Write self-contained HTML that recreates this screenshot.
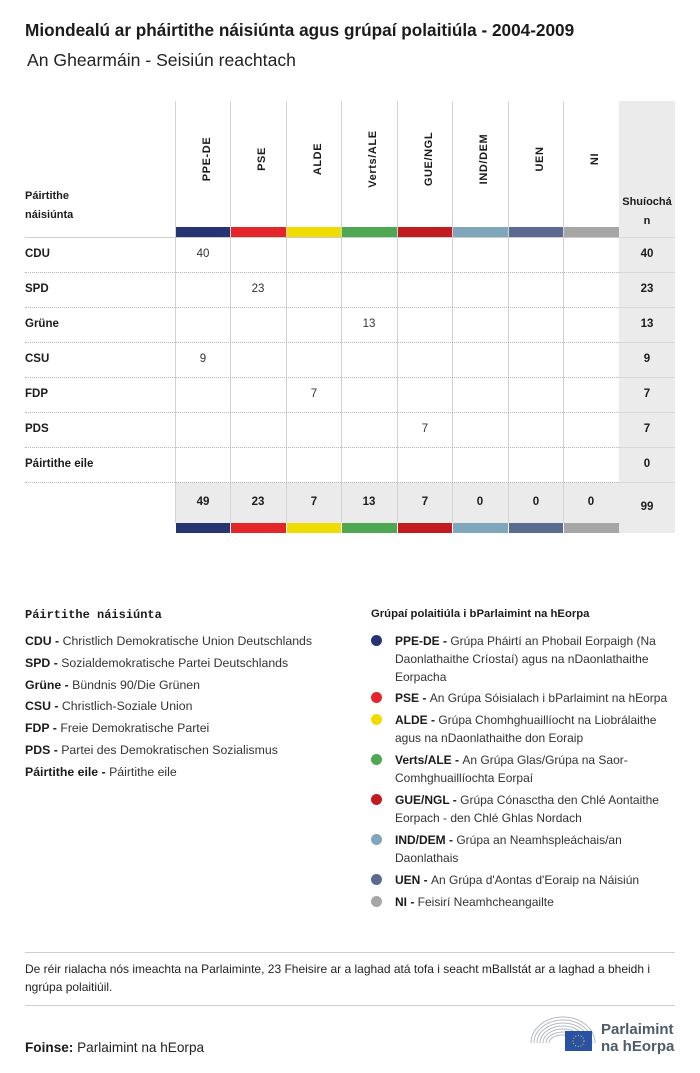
<!DOCTYPE html>
<html>
<head>
<meta charset="utf-8">
<style>
  html,body{margin:0;padding:0;}
  body{width:700px;height:1073px;position:relative;background:#fff;overflow:hidden;
       font-family:"Liberation Sans",Arial,sans-serif;color:#222;}
  .a{position:absolute;}
  .t{position:absolute;white-space:nowrap;line-height:20px;height:20px;}
  .b{font-weight:bold;color:#1b1b1b;}
  .vl{position:absolute;width:1px;background:#d2d2d2;top:101px;height:422px;}
  .bar{position:absolute;height:10px;}
  .dot{position:absolute;border-top:1px dotted #b8b8b8;left:25px;width:594px;height:0;}
  .gl{position:absolute;left:619px;width:56px;height:1px;background:#d8d8d8;}
  .rl{position:absolute;font-weight:bold;font-size:11.5px;color:#1b1b1b;}
  .val{position:absolute;width:56px;text-align:center;font-size:11.5px;color:#333;line-height:20px;height:20px;}
  .tot{position:absolute;width:56px;text-align:center;font-size:11.5px;font-weight:bold;color:#1b1b1b;line-height:20px;height:20px;}
  .rot{position:absolute;white-space:nowrap;font-weight:bold;font-size:11px;letter-spacing:0.6px;color:#1b1b1b;
       line-height:12px;transform:translate(-50%,-50%) rotate(-90deg);}
  .lg{position:absolute;white-space:nowrap;font-size:12px;line-height:18px;height:18px;color:#333;}
  .lg b{color:#1b1b1b;}
  .ll{font-size:12.3px;}
  .dt{position:absolute;width:11px;height:11px;border-radius:50%;}
</style>
</head>
<body>

<!-- Titles -->
<div class="t b" style="left:25px;top:20px;font-size:17.2px;">Miondealú ar pháirtithe náisiúnta agus grúpaí polaitiúla - 2004-2009</div>
<div class="t" style="left:27px;top:50px;font-size:17.6px;color:#222;">An Ghearmáin - Seisiún reachtach</div>

<!-- grey total column -->
<div class="a" style="left:619px;top:101px;width:56px;height:432px;background:#ebebeb;"></div>
<!-- grey footer row -->
<div class="a" style="left:175px;top:482px;width:444px;height:41px;background:#ebebeb;"></div>

<!-- vertical lines -->
<div class="vl" style="left:175px;"></div>
<div class="vl" style="left:230px;"></div>
<div class="vl" style="left:286px;"></div>
<div class="vl" style="left:341px;"></div>
<div class="vl" style="left:397px;"></div>
<div class="vl" style="left:452px;"></div>
<div class="vl" style="left:508px;"></div>
<div class="vl" style="left:563px;"></div>

<!-- header bars -->
<div class="bar" style="top:227px;left:176px;width:54px;background:#263474;"></div>
<div class="bar" style="top:227px;left:231px;width:55px;background:#e3262a;"></div>
<div class="bar" style="top:227px;left:287px;width:54px;background:#efdc00;"></div>
<div class="bar" style="top:227px;left:342px;width:55px;background:#4ea853;"></div>
<div class="bar" style="top:227px;left:398px;width:54px;background:#c21b1f;"></div>
<div class="bar" style="top:227px;left:453px;width:55px;background:#80a6bb;"></div>
<div class="bar" style="top:227px;left:509px;width:54px;background:#5a6b8f;"></div>
<div class="bar" style="top:227px;left:564px;width:55px;background:#a6a6a6;"></div>

<!-- footer bars -->
<div class="bar" style="top:523px;left:176px;width:54px;background:#263474;"></div>
<div class="bar" style="top:523px;left:231px;width:55px;background:#e3262a;"></div>
<div class="bar" style="top:523px;left:287px;width:54px;background:#efdc00;"></div>
<div class="bar" style="top:523px;left:342px;width:55px;background:#4ea853;"></div>
<div class="bar" style="top:523px;left:398px;width:54px;background:#c21b1f;"></div>
<div class="bar" style="top:523px;left:453px;width:55px;background:#80a6bb;"></div>
<div class="bar" style="top:523px;left:509px;width:54px;background:#5a6b8f;"></div>
<div class="bar" style="top:523px;left:564px;width:55px;background:#a6a6a6;"></div>

<!-- header bottom line -->
<div class="a" style="left:25px;top:237px;width:594px;height:1px;background:#cccccc;"></div>
<div class="gl" style="top:237px;"></div>

<!-- row separators -->
<div class="dot" style="top:272px;"></div><div class="gl" style="top:272px;"></div>
<div class="dot" style="top:307px;"></div><div class="gl" style="top:307px;"></div>
<div class="dot" style="top:342px;"></div><div class="gl" style="top:342px;"></div>
<div class="dot" style="top:377px;"></div><div class="gl" style="top:377px;"></div>
<div class="dot" style="top:412px;"></div><div class="gl" style="top:412px;"></div>
<div class="dot" style="top:447px;"></div><div class="gl" style="top:447px;"></div>
<div class="dot" style="top:482px;"></div><div class="gl" style="top:482px;"></div>

<!-- header labels -->
<div class="t b" style="left:25px;top:186px;font-size:11px;">Páirtithe</div>
<div class="t b" style="left:25px;top:205px;font-size:11px;">náisiúnta</div>
<div class="t b" style="left:619px;top:192px;width:56px;text-align:center;font-size:11px;">Shuíochá</div>
<div class="t b" style="left:619px;top:211px;width:56px;text-align:center;font-size:11px;">n</div>

<div class="rot" style="left:207px;top:159px;">PPE-DE</div>
<div class="rot" style="left:262px;top:159px;">PSE</div>
<div class="rot" style="left:318px;top:159px;">ALDE</div>
<div class="rot" style="left:373px;top:159px;">Verts/ALE</div>
<div class="rot" style="left:429px;top:159px;">GUE/NGL</div>
<div class="rot" style="left:484px;top:159px;">IND/DEM</div>
<div class="rot" style="left:540px;top:159px;">UEN</div>
<div class="rot" style="left:595px;top:159px;">NI</div>

<!-- row labels -->
<div class="t rl" style="left:25px;top:244px;">CDU</div>
<div class="t rl" style="left:25px;top:279px;">SPD</div>
<div class="t rl" style="left:25px;top:314px;">Grüne</div>
<div class="t rl" style="left:25px;top:349px;">CSU</div>
<div class="t rl" style="left:25px;top:384px;">FDP</div>
<div class="t rl" style="left:25px;top:419px;">PDS</div>
<div class="t rl" style="left:25px;top:454px;">Páirtithe eile</div>

<!-- values -->
<div class="val" style="left:175px;top:244px;">40</div>
<div class="val" style="left:230px;top:279px;">23</div>
<div class="val" style="left:341px;top:314px;">13</div>
<div class="val" style="left:175px;top:349px;">9</div>
<div class="val" style="left:286px;top:384px;">7</div>
<div class="val" style="left:397px;top:419px;">7</div>

<!-- totals column -->
<div class="tot" style="left:619px;top:244px;">40</div>
<div class="tot" style="left:619px;top:279px;">23</div>
<div class="tot" style="left:619px;top:314px;">13</div>
<div class="tot" style="left:619px;top:349px;">9</div>
<div class="tot" style="left:619px;top:384px;">7</div>
<div class="tot" style="left:619px;top:419px;">7</div>
<div class="tot" style="left:619px;top:454px;">0</div>

<!-- footer totals -->
<div class="tot" style="left:175px;top:492px;">49</div>
<div class="tot" style="left:230px;top:492px;">23</div>
<div class="tot" style="left:286px;top:492px;">7</div>
<div class="tot" style="left:341px;top:492px;">13</div>
<div class="tot" style="left:397px;top:492px;">7</div>
<div class="tot" style="left:452px;top:492px;">0</div>
<div class="tot" style="left:508px;top:492px;">0</div>
<div class="tot" style="left:563px;top:492px;">0</div>
<div class="tot" style="left:619px;top:497px;">99</div>

<!-- Left legend -->
<div class="t" style="left:25px;top:605px;font-family:'Liberation Mono',monospace;font-weight:bold;font-size:12px;color:#1b1b1b;">Páirtithe náisiúnta</div>
<div class="lg ll" style="left:25px;top:632px;"><b>CDU - </b>Christlich Demokratische Union Deutschlands</div>
<div class="lg ll" style="left:25px;top:654px;"><b>SPD - </b>Sozialdemokratische Partei Deutschlands</div>
<div class="lg ll" style="left:25px;top:676px;"><b>Grüne - </b>Bündnis 90/Die Grünen</div>
<div class="lg ll" style="left:25px;top:697px;"><b>CSU - </b>Christlich-Soziale Union</div>
<div class="lg ll" style="left:25px;top:719px;"><b>FDP - </b>Freie Demokratische Partei</div>
<div class="lg ll" style="left:25px;top:741px;"><b>PDS - </b>Partei des Demokratischen Sozialismus</div>
<div class="lg ll" style="left:25px;top:763px;"><b>Páirtithe eile - </b>Páirtithe eile</div>

<!-- Right legend -->
<div class="t b" style="left:371px;top:604px;font-size:11.3px;">Grúpaí polaitiúla i bParlaimint na hEorpa</div>

<div class="dt" style="left:371px;top:635px;background:#263474;"></div>
<div class="lg" style="left:395px;top:632px;"><b>PPE-DE - </b>Grúpa Pháirtí an Phobail Eorpaigh (Na</div>
<div class="lg" style="left:395px;top:650px;">Daonlathaithe Críostaí) agus na nDaonlathaithe</div>
<div class="lg" style="left:395px;top:668px;">Eorpacha</div>

<div class="dt" style="left:371px;top:692px;background:#e3262a;"></div>
<div class="lg" style="left:395px;top:689px;"><b>PSE - </b>An Grúpa Sóisialach i bParlaimint na hEorpa</div>

<div class="dt" style="left:371px;top:714px;background:#efdc00;"></div>
<div class="lg" style="left:395px;top:711px;"><b>ALDE - </b>Grúpa Chomhghuaillíocht na Liobrálaithe</div>
<div class="lg" style="left:395px;top:729px;">agus na nDaonlathaithe don Eoraip</div>

<div class="dt" style="left:371px;top:754px;background:#4ea853;"></div>
<div class="lg" style="left:395px;top:751px;"><b>Verts/ALE - </b>An Grúpa Glas/Grúpa na Saor-</div>
<div class="lg" style="left:395px;top:769px;">Comhghuaillíochta Eorpaí</div>

<div class="dt" style="left:371px;top:794px;background:#c21b1f;"></div>
<div class="lg" style="left:395px;top:791px;"><b>GUE/NGL - </b>Grúpa Cónasctha den Chlé Aontaithe</div>
<div class="lg" style="left:395px;top:809px;">Eorpach - den Chlé Ghlas Nordach</div>

<div class="dt" style="left:371px;top:834px;background:#80a6bb;"></div>
<div class="lg" style="left:395px;top:831px;"><b>IND/DEM - </b>Grúpa an Neamhspleáchais/an</div>
<div class="lg" style="left:395px;top:849px;">Daonlathais</div>

<div class="dt" style="left:371px;top:874px;background:#5a6b8f;"></div>
<div class="lg" style="left:395px;top:871px;"><b>UEN - </b>An Grúpa d'Aontas d'Eoraip na Náisiún</div>

<div class="dt" style="left:371px;top:896px;background:#a6a6a6;"></div>
<div class="lg" style="left:395px;top:893px;"><b>NI - </b>Feisirí Neamhcheangailte</div>

<!-- Footer note -->
<div class="a" style="left:25px;top:952px;width:650px;height:1px;background:#cfcfcf;"></div>
<div class="t" style="left:25px;top:959px;font-size:12px;color:#222;">De réir rialacha nós imeachta na Parlaiminte, 23 Fheisire ar a laghad atá tofa i seacht mBallstát ar a laghad a bheidh i</div>
<div class="t" style="left:25px;top:977px;font-size:12px;color:#222;">ngrúpa polaitiúil.</div>
<div class="a" style="left:25px;top:1005px;width:650px;height:1px;background:#cfcfcf;"></div>

<div class="t" style="left:25px;top:1038px;font-size:13.6px;color:#222;"><b style="color:#1b1b1b;">Foinse:</b> Parlaimint na hEorpa</div>

<!-- Logo -->
<svg class="a" style="left:528px;top:1013px;" width="70" height="42" viewBox="0 0 70 42">
  <g fill="none" stroke="#b5b9bf" stroke-width="1">
    <path d="M3 30 A32 26 0 0 1 67 30"/>
    <path d="M6 30 A29 23 0 0 1 64 30"/>
    <path d="M9 30 A26 20 0 0 1 61 30"/>
    <path d="M12 30 A23 17 0 0 1 58 30"/>
    <path d="M15 30 A20 14 0 0 1 55 30"/>
    <path d="M18 30 A17 11 0 0 1 52 30"/>
    <path d="M21 30 A14 8 0 0 1 49 30"/>
  </g>
  <rect x="37" y="18" width="27" height="20" fill="#2a52a4"/>
  <circle cx="50.5" cy="28" r="5.5" fill="none" stroke="#f5d000" stroke-width="1" stroke-dasharray="1 1.8"/>
</svg>
<div class="t" style="left:601px;top:1020px;font-size:15px;font-weight:bold;color:#4d5b6b;">Parlaimint</div>
<div class="t" style="left:601px;top:1037px;font-size:15px;font-weight:bold;color:#4d5b6b;">na hEorpa</div>

</body>
</html>
